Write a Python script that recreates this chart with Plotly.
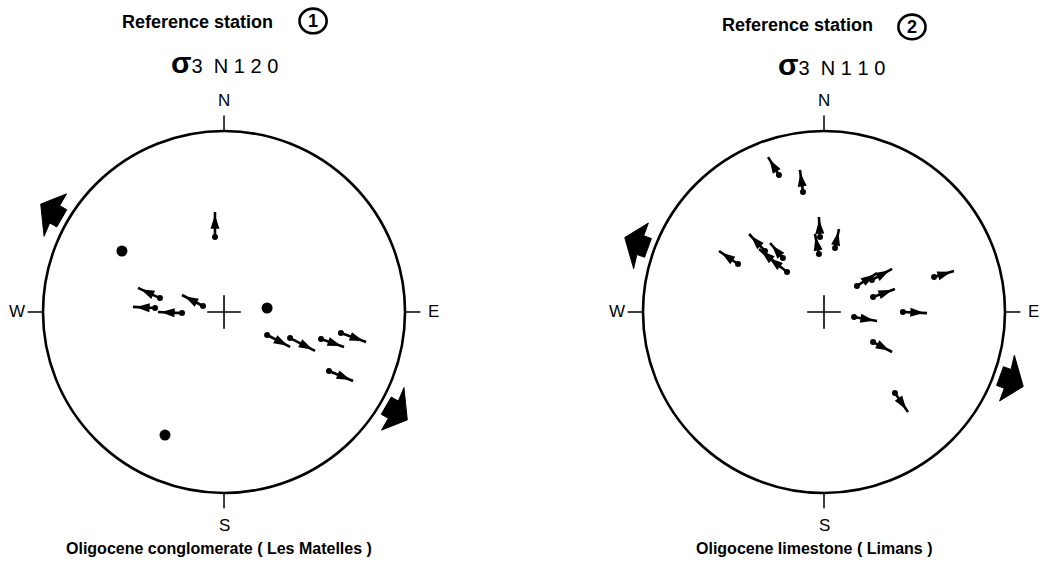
import math
import plotly.graph_objects as go

# ---- Station 1: Oligocene conglomerate (Les Matelles) ----
# Positions in net units (east = +x, north = +y, primitive radius = 1)
s1_tail_x = [-0.050, -0.354, -0.116, -0.381, -0.232, 0.238, 0.365, 0.536, 0.646, 0.580]
s1_tail_y = [0.414, 0.077, 0.033, 0.022, -0.006, -0.127, -0.144, -0.149, -0.116, -0.326]
s1_head_x = [-0.050, -0.475, -0.232, -0.503, -0.365, 0.365, 0.503, 0.663, 0.785, 0.713]
s1_head_y = [0.552, 0.133, 0.094, 0.028, 0.000, -0.193, -0.215, -0.193, -0.166, -0.381]
s1_dot_x = [-0.564, 0.238, -0.326]
s1_dot_y = [0.337, 0.022, -0.680]
s1_sigma3 = 120

# ---- Station 2: Oligocene limestone (Limans) ----
s2_tail_x = [-0.249, -0.116, -0.022, -0.028, 0.061, -0.475, -0.326, -0.227, -0.204, -0.254,
             0.182, 0.265, 0.271, 0.608, 0.436, 0.166, 0.271, 0.392]
s2_tail_y = [0.757, 0.663, 0.414, 0.320, 0.354, 0.265, 0.337, 0.298, 0.221, 0.260,
             0.144, 0.177, 0.083, 0.193, 0.000, -0.028, -0.166, -0.448]
s2_head_x = [-0.309, -0.133, -0.028, -0.050, 0.083, -0.580, -0.414, -0.298, -0.315, -0.359,
             0.293, 0.376, 0.392, 0.718, 0.569, 0.293, 0.376, 0.464]
s2_head_y = [0.856, 0.785, 0.525, 0.431, 0.459, 0.337, 0.431, 0.381, 0.309, 0.348,
             0.215, 0.238, 0.127, 0.227, -0.006, -0.050, -0.221, -0.552]
s2_sigma3 = 110

stations = [
    dict(tx=s1_tail_x, ty=s1_tail_y, hx=s1_head_x, hy=s1_head_y, dx=s1_dot_x, dy=s1_dot_y,
         sigma3=s1_sigma3, title="Reference station", num="1",
         rock="Oligocene conglomerate ( Les Matelles )",
         title_xy=(-0.144, 1.602), num_xy=(0.492, 1.608), sig_xy=(0.0, 1.376), rock_xy=(-0.028, -1.304)),
    dict(tx=s2_tail_x, ty=s2_tail_y, hx=s2_head_x, hy=s2_head_y, dx=[], dy=[],
         sigma3=s2_sigma3, title="Reference station", num="2",
         rock="Oligocene limestone ( Limans )",
         title_xy=(-0.144, 1.586), num_xy=(0.486, 1.575), sig_xy=(0.04, 1.365), rock_xy=(-0.05, -1.304)),
]

FONT = "Liberation Sans, Arial, sans-serif"
HEAD_BACK = 0.03   # arrow-head marker centre sits this far behind the tip (net units)
fig = go.Figure()
shapes = []
annotations = []

for i, st in enumerate(stations):
    xr = "x" if i == 0 else "x2"
    yr = "y" if i == 0 else "y2"

    # primitive circle
    shapes.append(dict(type="circle", xref=xr, yref=yr, x0=-1, x1=1, y0=-1, y1=1,
                       line=dict(color="black", width=2.6)))
    # cardinal ticks
    t = 0.085
    for (x0, y0, x1, y1) in [(0, 1, 0, 1 + t), (0, -1, 0, -1 - t), (1, 0, 1 + t, 0), (-1, 0, -1 - t, 0)]:
        shapes.append(dict(type="line", xref=xr, yref=yr, x0=x0, y0=y0, x1=x1, y1=y1,
                           line=dict(color="black", width=1.5)))
    for lab, lx, ly in [("N", 0, 1.166), ("S", 0, -1.177), ("E", 1.155, 0), ("W", -1.144, 0)]:
        annotations.append(dict(xref=xr, yref=yr, x=lx, y=ly, text=lab, showarrow=False,
                                font=dict(family=FONT, size=17, color="black")))

    # centre cross
    fig.add_trace(go.Scatter(x=[0], y=[0], mode="markers", xaxis=xr, yaxis=yr,
                             marker=dict(symbol="cross-thin", size=24, line=dict(color="black", width=1.6)),
                             hoverinfo="skip", showlegend=False))

    # striae shafts
    xs, ys = [], []
    hx_m, hy_m, ang = [], [], []
    for a, b, c, d in zip(st["tx"], st["ty"], st["hx"], st["hy"]):
        xs += [a, c, None]
        ys += [b, d, None]
        L = math.hypot(c - a, d - b)
        hx_m.append(c - HEAD_BACK * (c - a) / L)
        hy_m.append(d - HEAD_BACK * (d - b) / L)
        ang.append(math.degrees(math.atan2(c - a, d - b)))
    fig.add_trace(go.Scatter(x=xs, y=ys, mode="lines", xaxis=xr, yaxis=yr,
                             line=dict(color="black", width=2.6),
                             hoverinfo="skip", showlegend=False))
    # heads
    fig.add_trace(go.Scatter(x=hx_m, y=hy_m, mode="markers", xaxis=xr, yaxis=yr,
                             marker=dict(symbol="arrow", size=11, angle=ang, color="black",
                                         line=dict(width=1.6, color="black")),
                             hoverinfo="skip", showlegend=False))
    # pole dots at the tails
    fig.add_trace(go.Scatter(x=st["tx"], y=st["ty"], mode="markers", xaxis=xr, yaxis=yr,
                             marker=dict(symbol="circle", size=6, color="black"),
                             hoverinfo="skip", showlegend=False))
    if st["dx"]:
        fig.add_trace(go.Scatter(x=st["dx"], y=st["dy"], mode="markers", xaxis=xr, yaxis=yr,
                                 marker=dict(symbol="circle", size=11, color="black"),
                                 hoverinfo="skip", showlegend=False))

    # sigma3 extension arrows outside the net
    for az in (st["sigma3"], st["sigma3"] + 180):
        r = math.radians(az)
        ux, uy = math.sin(r), math.cos(r)          # outward
        vx, vy = math.cos(r), -math.sin(r)         # tangential
        r0 = 1.035
        pts = [(0.0, -0.055), (0.045, -0.055), (0.035, -0.135), (0.14, 0.01),
               (0.045, 0.13), (0.045, 0.055), (0.0, 0.055), (0.0, -0.055)]
        px = [(r0 + u) * ux + v * vx for u, v in pts]
        py = [(r0 + u) * uy + v * vy for u, v in pts]
        fig.add_trace(go.Scatter(x=px, y=py, mode="lines", fill="toself", fillcolor="black",
                                 line=dict(color="black", width=1), xaxis=xr, yaxis=yr,
                                 hoverinfo="skip", showlegend=False))

    # headings
    tx_, ty_ = st["title_xy"]
    annotations.append(dict(xref=xr, yref=yr, x=tx_, y=ty_, text="<b>" + st["title"] + "</b>",
                            showarrow=False, font=dict(family=FONT, size=18, color="black")))
    nx, ny = st["num_xy"]
    shapes.append(dict(type="circle", xref=xr, yref=yr, x0=nx - 0.075, x1=nx + 0.075,
                       y0=ny - 0.068, y1=ny + 0.068, line=dict(color="black", width=2.6)))
    annotations.append(dict(xref=xr, yref=yr, x=nx, y=ny, text="<b>" + st["num"] + "</b>",
                            showarrow=False, font=dict(family=FONT, size=18, color="black")))
    sx, sy = st["sig_xy"]
    annotations.append(dict(xref=xr, yref=yr, x=sx, y=sy,
                            text="<b><span style='font-size:30px'>σ</span></b>3  N " +
                                 " ".join(str(st["sigma3"])),
                            showarrow=False, font=dict(family=FONT, size=20, color="black")))
    rx, ry = st["rock_xy"]
    annotations.append(dict(xref=xr, yref=yr, x=rx, y=ry, text="<b>" + st["rock"] + "</b>",
                            showarrow=False, font=dict(family=FONT, size=16, color="black")))

axis_common = dict(visible=False, showgrid=False, zeroline=False, fixedrange=True)
fig.update_layout(
    width=1045, height=569,
    margin=dict(l=0, r=0, t=0, b=0),
    paper_bgcolor="white", plot_bgcolor="white",
    xaxis=dict(domain=[0, 0.5], range=[-1.2376, 1.649], **axis_common),
    yaxis=dict(domain=[0, 1], range=[-1.420, 1.7238], **axis_common),
    xaxis2=dict(domain=[0.5, 1], range=[-1.6657, 1.221], **axis_common),
    yaxis2=dict(domain=[0, 1], range=[-1.420, 1.7238], anchor="x2", **axis_common),
    shapes=shapes, annotations=annotations, showlegend=False,
)

fig.write_html("out.html")
